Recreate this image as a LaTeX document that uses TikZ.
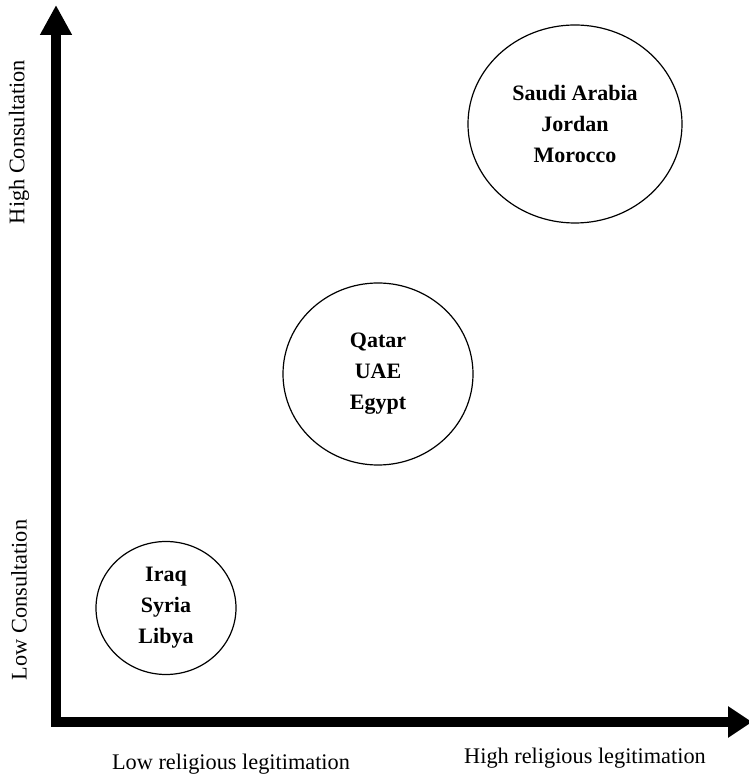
\documentclass[tikz,border=0pt]{standalone}
\usepackage{fontspec}
\setmainfont{Liberation Serif}
\usetikzlibrary{arrows.meta,shapes.geometric}
\begin{document}
\begin{tikzpicture}[x=1pt,y=1pt,
  axis/.style={line width=10pt,line join=miter},
  group/.style={draw,ellipse,line width=1.2pt,inner sep=0pt,align=center,
    font=\fontsize{22}{31}\selectfont\bfseries},
  axlabel/.style={font=\fontsize{22.3}{26}\selectfont,inner sep=0pt}]
\useasboundingbox (0,0) rectangle (749,777);
\coordinate (ytop) at (56,772);
\coordinate (corner) at (56,55);
\coordinate (xend) at (752,55);
\draw[axis,{Triangle[length=30pt,width=30pt]}-{Triangle[length=24pt,width=30pt]}]
  (ytop) -- (corner) -- (xend);
\node[group,minimum width=214pt,minimum height=198pt] (top) at (575,653)
  {Saudi Arabia\\Jordan\\Morocco};
\node[group,minimum width=190pt,minimum height=182pt] (mid) at (378,403)
  {Qatar\\UAE\\Egypt};
\node[group,minimum width=140pt,minimum height=133pt] (low) at (166,169)
  {Iraq\\Syria\\Libya};
\node[axlabel,rotate=90] (hc) at (19,635) {High Consultation};
\node[axlabel,rotate=90] (lc) at (19,177) {Low Consultation};
\node[axlabel] (lr) at (231,13) {Low religious legitimation};
\node[axlabel] (hr) at (585,19) {High religious legitimation};
\end{tikzpicture}
\end{document}
